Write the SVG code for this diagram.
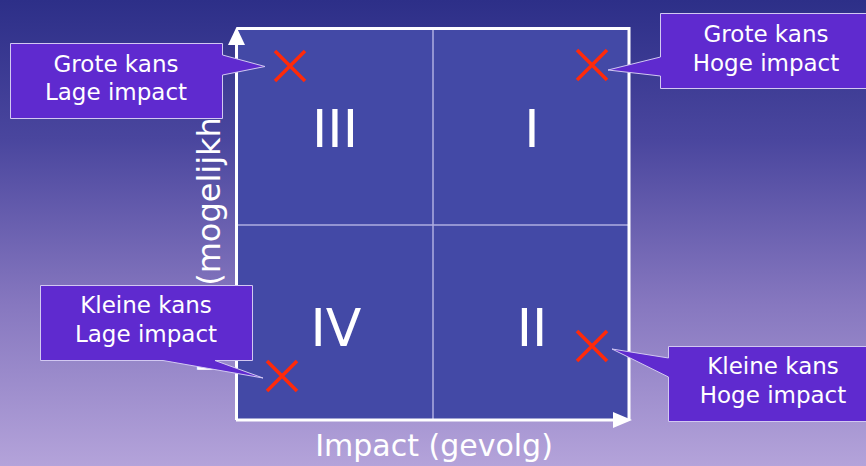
<svg xmlns="http://www.w3.org/2000/svg" width="866" height="466" viewBox="0 0 866 466">
  <defs>
    <linearGradient id="bg" x1="0" y1="0" x2="0" y2="1">
      <stop offset="0" stop-color="#2d2f88"/>
      <stop offset="0.3" stop-color="#4a469e"/>
      <stop offset="0.65" stop-color="#8677bf"/>
      <stop offset="1" stop-color="#b4a3da"/>
    </linearGradient>
  </defs>
  <style>
    .lbl { font-family: "DejaVu Sans", "Liberation Sans", sans-serif; fill: #ffffff; }
    .num { font-family: "DejaVu Sans", "Liberation Sans", sans-serif; fill: #ffffff; font-size: 52px; text-anchor: middle; }
    .co { fill: #5f2acf; stroke: #d2c8f2; stroke-width: 1; }
    .cot { font-family: "DejaVu Sans", "Liberation Sans", sans-serif; fill: #ffffff; font-size: 23px; text-anchor: middle; }
    .x { stroke: #ff2a0a; stroke-width: 3.5; stroke-linecap: butt; fill: none; }
    .axis { stroke: #ffffff; stroke-width: 3; fill: none; }
    .mid { stroke: #aeaee0; stroke-width: 1.5; }
  </style>
  <rect width="866" height="466" fill="url(#bg)"/>

  <text class="lbl" font-size="32" transform="translate(220,373) rotate(-90)">Kans (mogelijkheid)</text>
  <text class="lbl" font-size="30" x="434" y="456" text-anchor="middle">Impact (gevolg)</text>

  <g id="matrix">
    <rect x="236.5" y="28.5" width="392.5" height="391.5" fill="#4349a6"/>
    <line class="mid" x1="433" y1="28" x2="433" y2="420"/>
    <line class="mid" x1="236" y1="225" x2="629" y2="225"/>
  </g>

  <g id="connectors">
    <path class="axis" d="M236.5,420 V44 M236.5,28.5 H629 V420 M236,420 H614"/>
    <polygon points="236.5,27 228,45 245,45" fill="#ffffff"/>
    <polygon points="632,420 613,412 613,428" fill="#ffffff"/>
  </g>

  <g id="quadrant-III"><text class="num" x="335" y="147">III</text></g>
  <g id="quadrant-I"><text class="num" x="532" y="147">I</text></g>
  <g id="quadrant-IV"><text class="num" x="336" y="346">IV</text></g>
  <g id="quadrant-II"><text class="num" x="532" y="346">II</text></g>

  <g id="marks">
    <path class="x" d="M275,51 L305,81 M305,51 L275,81"/>
    <path class="x" d="M577,50 L607,80 M607,50 L577,80"/>
    <path class="x" d="M267,361 L297,391 M297,361 L267,391"/>
    <path class="x" d="M577,331 L607,361 M607,331 L577,361"/>
  </g>

  <g id="callout-grote-lage">
    <path class="co" d="M10.5,43.5 H222.5 V55 L265,66.5 L222.5,75 V118.5 H10.5 Z"/>
    <text class="cot" x="116" y="72">Grote kans</text>
    <text class="cot" x="116" y="100">Lage impact</text>
  </g>
  <g id="callout-grote-hoge">
    <path class="co" d="M660.5,13.5 H872 V88.5 H660.5 V76 L608,70 L660.5,57 Z"/>
    <text class="cot" x="766" y="42">Grote kans</text>
    <text class="cot" x="766" y="71">Hoge impact</text>
  </g>
  <g id="callout-kleine-lage">
    <path class="co" d="M40.5,285.5 H252.5 V360.5 H215 L263,378 L163,360.5 H40.5 Z"/>
    <text class="cot" x="146" y="313">Kleine kans</text>
    <text class="cot" x="146" y="342">Lage impact</text>
  </g>
  <g id="callout-kleine-hoge">
    <path class="co" d="M668.5,346.5 H880 V421.5 H668.5 V377 L612,349 L668.5,358 Z"/>
    <text class="cot" x="773" y="374">Kleine kans</text>
    <text class="cot" x="773" y="403">Hoge impact</text>
  </g>
</svg>
